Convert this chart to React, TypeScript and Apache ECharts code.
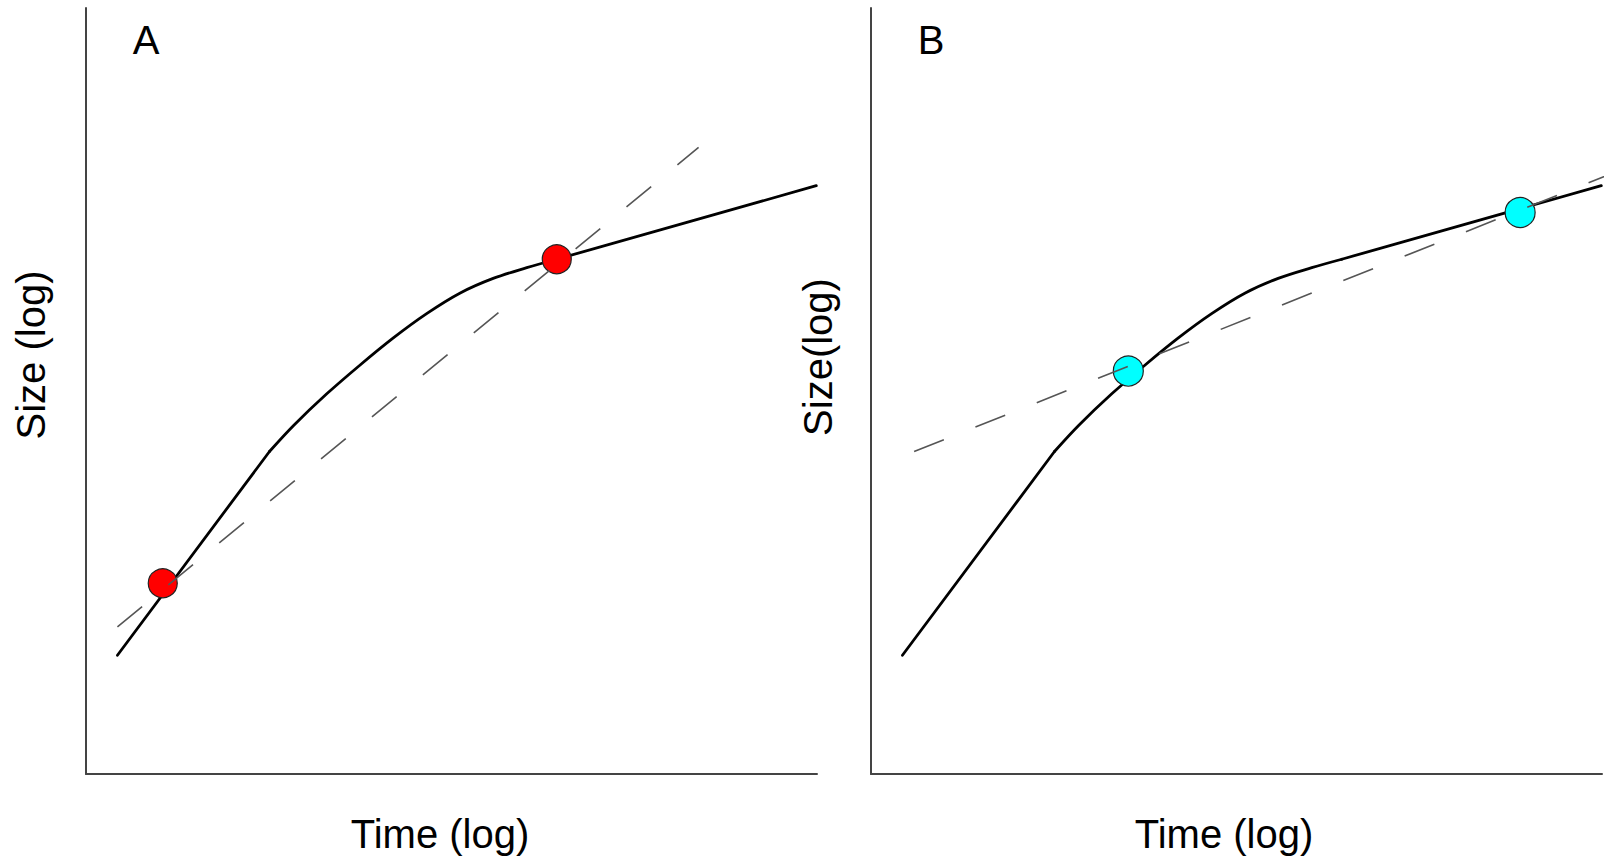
import React, { useEffect, useRef } from "react";
import * as echarts from "echarts";

// Growth curve (log time, log size); split into its phases
const earlyGrowth: [number, number][] = [[4.3, 15.5], [25.1, 42.1]];
const transitionGrowth: [number, number][] = [
  [25.1, 42.1], [28.4, 45.5], [32.9, 49.6], [37.5, 53.4], [42.0, 56.9],
  [46.6, 60.1], [51.2, 62.8], [55.7, 64.7], [60.3, 66.1], [64.4, 67.2],
];
const lateGrowth: [number, number][] = [[64.4, 67.2], [99.9, 76.8]];
// Dashed fitted lines
const fitLineA: [number, number][] = [[4.3, 19.2], [83.8, 81.8]];
const fitLineB: [number, number][] = [[5.9, 42.1], [104.0, 79.4]];
// Sample points
const pointsA: [number, number][] = [[10.5, 24.9], [64.4, 67.2]];
const pointsB: [number, number][] = [[35.2, 52.6], [88.8, 73.3]];
// Texts
const panelLabels = ["A", "B"];
const xAxisNames = ["Time (log)", "Time (log)"];
const yAxisNames = ["Size (log)", "Size(log)"];

const FONT = "'Liberation Sans', Arial, Helvetica, sans-serif";

export default function App() {
  const ref = useRef<HTMLDivElement>(null);
  useEffect(() => {
    if (!ref.current) return;
    const chart = echarts.init(ref.current, undefined, { renderer: "svg" });
    const axisBase = {
      type: "value" as const,
      min: 0,
      max: 100,
      axisLine: { show: true, onZero: false, lineStyle: { color: "#444", width: 2 } },
      axisTick: { show: false },
      axisLabel: { show: false },
      splitLine: { show: false },
    };
    const text = (t: string, x: number, y: number, rot = 0) => ({
      type: "text",
      x,
      y,
      rotation: rot,
      style: {
        text: t,
        fill: "#000",
        font: `40px ${FONT}`,
        align: "center",
        verticalAlign: "middle",
      },
    });
    const solid = (idx: number, data: [number, number][], smooth: boolean) => ({
      type: "line",
      xAxisIndex: idx,
      yAxisIndex: idx,
      data,
      smooth: smooth ? 0.35 : false,
      showSymbol: false,
      symbol: "none",
      z: 2,
      lineStyle: { color: "#000", width: 2.8, cap: "round", join: "round" },
    });
    const dashed = (idx: number, data: [number, number][]) => ({
      type: "line",
      xAxisIndex: idx,
      yAxisIndex: idx,
      data,
      showSymbol: false,
      symbol: "none",
      z: 4,
      clip: false,
      lineStyle: { color: "#555", width: 1.6, type: [32, 34] },
    });
    chart.setOption({
      animation: false,
      backgroundColor: "#fff",
      grid: [
        { left: 86, top: 8, width: 731, height: 766 },
        { left: 871, top: 8, width: 731, height: 766 },
      ],
      xAxis: [
        { ...axisBase, gridIndex: 0 },
        { ...axisBase, gridIndex: 1 },
      ],
      yAxis: [
        { ...axisBase, gridIndex: 0 },
        { ...axisBase, gridIndex: 1 },
      ],
      series: [
        solid(0, earlyGrowth, false),
        solid(0, transitionGrowth, true),
        solid(0, lateGrowth, false),
        solid(1, earlyGrowth, false),
        solid(1, transitionGrowth, true),
        solid(1, lateGrowth, false),
        {
          type: "scatter", xAxisIndex: 0, yAxisIndex: 0, data: pointsA,
          symbolSize: 29, z: 3,
          itemStyle: { color: "#ff0000", borderColor: "#222", borderWidth: 1.2, opacity: 1 },
        },
        {
          type: "scatter", xAxisIndex: 1, yAxisIndex: 1, data: pointsB,
          symbolSize: 30, z: 3,
          itemStyle: { color: "#00ffff", borderColor: "#222", borderWidth: 1.2, opacity: 1 },
        },
        dashed(0, fitLineA),
        dashed(1, fitLineB),
      ],
      graphic: [
        text(panelLabels[0], 146, 40),
        text(panelLabels[1], 931, 40),
        text(xAxisNames[0], 440, 834),
        text(xAxisNames[1], 1224, 834),
        text(yAxisNames[0], 31, 355, Math.PI / 2),
        text(yAxisNames[1], 818, 357, Math.PI / 2),
      ],
    });
    return () => chart.dispose();
  }, []);
  return (
    <div
      ref={ref}
      style={{ position: "fixed", left: 0, top: 0, width: 1622, height: 864, background: "#fff" }}
    />
  );
}
